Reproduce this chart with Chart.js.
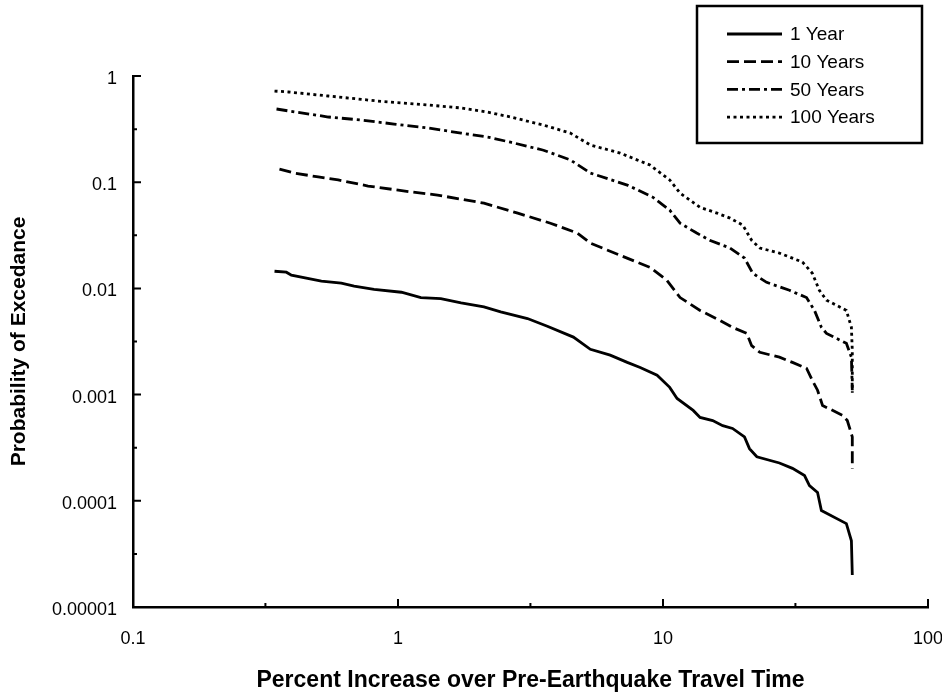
<!DOCTYPE html>
<html>
<head>
<meta charset="utf-8">
<script src="https://cdn.jsdelivr.net/npm/chart.js@4.4.1/dist/chart.umd.min.js"></script>
<style>
  html, body { margin: 0; padding: 0; background: #fff; }
</style>
</head>
<body>
<canvas id="riskChart" width="942" height="699"></canvas>
<script>
// values: percent increase (x) vs probability of exceedance (y)
const year1X = [0.342, 0.379, 0.396, 0.514, 0.611, 0.683, 0.812, 1.03, 1.22, 1.45, 1.73, 2.11, 2.44, 3.08, 3.66, 4.59, 5.32, 6.32, 7.33, 8.2, 9.5, 10.6, 11.3, 13.0, 13.8, 15.4, 16.8, 18.3, 20.3, 21.2, 22.6, 27.5, 30.8, 34.2, 35.7, 38.3, 39.6, 49.2, 51.4, 51.8];
const year1Y = [0.0145, 0.0142, 0.0133, 0.0117, 0.0112, 0.0105, 0.0098, 0.0092, 0.0082, 0.0080, 0.0073, 0.0067, 0.0060, 0.0052, 0.0044, 0.00348, 0.00267, 0.00235, 0.00201, 0.0018, 0.00152, 0.00117, 0.00092, 0.00071, 0.00061, 0.00057, 0.00051, 0.00048, 0.0004, 0.00031, 0.00026, 0.000227, 0.000202, 0.000173, 0.000139, 0.00012, 0.000081, 0.000061, 0.000042, 0.00002];

const year10X = [0.357, 0.406, 0.500, 0.595, 0.771, 1.12, 1.41, 1.73, 2.11, 2.83, 3.76, 4.75, 5.32, 6.89, 8.93, 10.35, 11.6, 13.8, 16.4, 18.3, 20.7, 21.6, 23.2, 27.5, 30.8, 34.8, 36.6, 38.3, 40.0, 47.5, 49.6, 51.8, 51.8];
const year10Y = [0.133, 0.122, 0.112, 0.105, 0.092, 0.081, 0.0756, 0.0692, 0.0635, 0.0511, 0.0411, 0.0332, 0.0267, 0.0205, 0.0158, 0.0119, 0.0082, 0.0062, 0.005, 0.0043, 0.00377, 0.00289, 0.0025, 0.00225, 0.00201, 0.00177, 0.00136, 0.0011, 0.00079, 0.00064, 0.00057, 0.0004, 0.0002];

const year50X = [0.348, 0.386, 0.546, 0.726, 0.966, 1.30, 1.73, 2.18, 2.66, 3.54, 4.47, 5.32, 7.33, 9.17, 10.6, 11.6, 13.4, 15.0, 17.9, 20.3, 21.8, 24.6, 30.0, 34.8, 37.3, 39.6, 41.4, 49.2, 51.4, 51.8];
const year50Y = [0.489, 0.469, 0.411, 0.385, 0.353, 0.324, 0.29, 0.266, 0.238, 0.2, 0.162, 0.122, 0.094, 0.072, 0.0546, 0.0411, 0.0332, 0.0284, 0.024, 0.0193, 0.0139, 0.0114, 0.0096, 0.0082, 0.0062, 0.0043, 0.00377, 0.00304, 0.00225, 0.0011];

const year100X = [0.342, 0.386, 0.546, 0.841, 1.30, 1.73, 2.18, 2.66, 3.54, 4.47, 5.32, 6.89, 8.93, 10.6, 11.6, 13.8, 16.0, 17.9, 20.0, 21.6, 23.2, 27.5, 33.6, 36.6, 38.9, 41.4, 49.2, 51.4, 51.8, 51.8];
const year100Y = [0.722, 0.707, 0.648, 0.581, 0.533, 0.5, 0.457, 0.411, 0.345, 0.29, 0.224, 0.188, 0.145, 0.105, 0.079, 0.058, 0.0511, 0.0459, 0.0394, 0.0284, 0.024, 0.0215, 0.0177, 0.0139, 0.0096, 0.00775, 0.0062, 0.0043, 0.00259, 0.00104];

const seriesNames = ['1 Year', '10 Years', '50 Years', '100 Years'];

// axis ticks: decades are labelled, half-decades get a short unlabelled mark
const xTicks = [0.1, 0.316, 1, 3.16, 10, 31.6, 100];
const xTickLabels = ['0.1', '', '1', '', '10', '', '100'];
const yTicks = [0.00001, 0.0000316, 0.0001, 0.000316, 0.001, 0.00316, 0.01, 0.0316, 0.1, 0.316, 1];
const yTickLabels = ['0.00001', '', '0.0001', '', '0.001', '', '0.01', '', '0.1', '', '1'];

function toPoints(xs, ys) {
    return xs.map((x, i) => ({ x: x, y: ys[i] }));
}

const FONT = "'Liberation Sans', Arial, sans-serif";

// short tick marks pointing into the plot
const tickMarks = {
    id: 'tickMarks',
    afterDatasetsDraw(chart) {
        const { ctx, chartArea, scales } = chart;
        ctx.save();
        ctx.strokeStyle = '#000';
        ctx.lineWidth = 2;
        ctx.beginPath();
        scales.x.ticks.forEach((t, i) => {
            const px = scales.x.getPixelForValue(t.value);
            const len = xTickLabels[i] ? 8 : 4;
            ctx.moveTo(px, chartArea.bottom);
            ctx.lineTo(px, chartArea.bottom - len);
        });
        scales.y.ticks.forEach((t, i) => {
            const py = scales.y.getPixelForValue(t.value);
            const len = yTickLabels[i] ? 8 : 4;
            ctx.moveTo(chartArea.left, py);
            ctx.lineTo(chartArea.left + len, py);
        });
        ctx.stroke();
        ctx.restore();
    }
};

// boxed legend in the top right corner, drawn with each dataset's line style
const boxLegend = {
    id: 'boxLegend',
    afterDraw(chart) {
        const ctx = chart.ctx;
        const box = { x: 697, y: 6, w: 225, h: 137 };
        ctx.save();
        ctx.fillStyle = '#fff';
        ctx.fillRect(box.x, box.y, box.w, box.h);
        ctx.strokeStyle = '#000';
        ctx.lineWidth = 2.5;
        ctx.strokeRect(box.x, box.y, box.w, box.h);
        ctx.font = '19px ' + FONT;
        ctx.textBaseline = 'middle';
        ctx.fillStyle = '#000';
        chart.data.datasets.forEach((ds, i) => {
            const rowY = 34 + i * 27.7;
            ctx.setLineDash(ds.borderDash || []);
            ctx.lineWidth = ds.borderWidth;
            ctx.beginPath();
            ctx.moveTo(727, rowY);
            ctx.lineTo(782, rowY);
            ctx.stroke();
            ctx.setLineDash([]);
            ctx.fillText(ds.label, 790, rowY + 1);
        });
        ctx.restore();
    }
};

const lineStyles = [[], [12, 5], [11, 4, 3, 4], [3, 3.5]];
const allX = [year1X, year10X, year50X, year100X];
const allY = [year1Y, year10Y, year50Y, year100Y];

const datasets = seriesNames.map((name, i) => ({
    label: name,
    data: toPoints(allX[i], allY[i]),
    borderColor: '#000',
    borderWidth: 2.8,
    borderDash: lineStyles[i],
    pointRadius: 0,
    showLine: true,
    fill: false,
    tension: 0
}));

const ctx = document.getElementById('riskChart').getContext('2d');
const riskChart = new Chart(ctx, {
    type: 'scatter',
    data: { datasets: datasets },
    plugins: [tickMarks, boxLegend],
    options: {
        responsive: false,
        animation: false,
        layout: { padding: { top: 76, right: 14, left: 0, bottom: 0 } },
        plugins: {
            legend: { display: false },
            tooltip: { enabled: false }
        },
        scales: {
            x: {
                type: 'logarithmic',
                position: 'bottom',
                min: 0.1,
                max: 100,
                afterFit: (scale) => {
                    scale.height = 92;
                    scale.paddingLeft = 0;
                    scale.paddingRight = 0;
                },
                afterBuildTicks: (scale) => { scale.ticks = xTicks.map(v => ({ value: v })); },
                grid: { display: false, drawTicks: false },
                border: { display: true, color: '#000', width: 2.5 },
                ticks: {
                    autoSkip: false,
                    maxRotation: 0,
                    padding: 21,
                    color: '#000',
                    font: { family: FONT, size: 18 },
                    callback: (value, index) => xTickLabels[index]
                },
                title: {
                    display: true,
                    text: 'Percent Increase over Pre-Earthquake Travel Time',
                    color: '#000',
                    font: { family: FONT, size: 23, weight: 'bold' },
                    padding: { top: 0, bottom: 5 }
                }
            },
            y: {
                type: 'logarithmic',
                min: 0.00001,
                max: 1,
                afterFit: (scale) => { scale.width = 133; },
                afterBuildTicks: (scale) => { scale.ticks = yTicks.map(v => ({ value: v })); },
                grid: { display: false, drawTicks: false },
                border: { display: true, color: '#000', width: 2.5 },
                ticks: {
                    autoSkip: false,
                    padding: 16,
                    labelOffset: 3,
                    color: '#000',
                    font: { family: FONT, size: 18 },
                    callback: (value, index) => yTickLabels[index]
                },
                title: {
                    display: true,
                    text: 'Probability of Excedance',
                    color: '#000',
                    font: { family: FONT, size: 21, weight: 'bold' },
                    padding: { top: 7, bottom: 0 }
                }
            }
        }
    }
});
</script>
</body>
</html>
